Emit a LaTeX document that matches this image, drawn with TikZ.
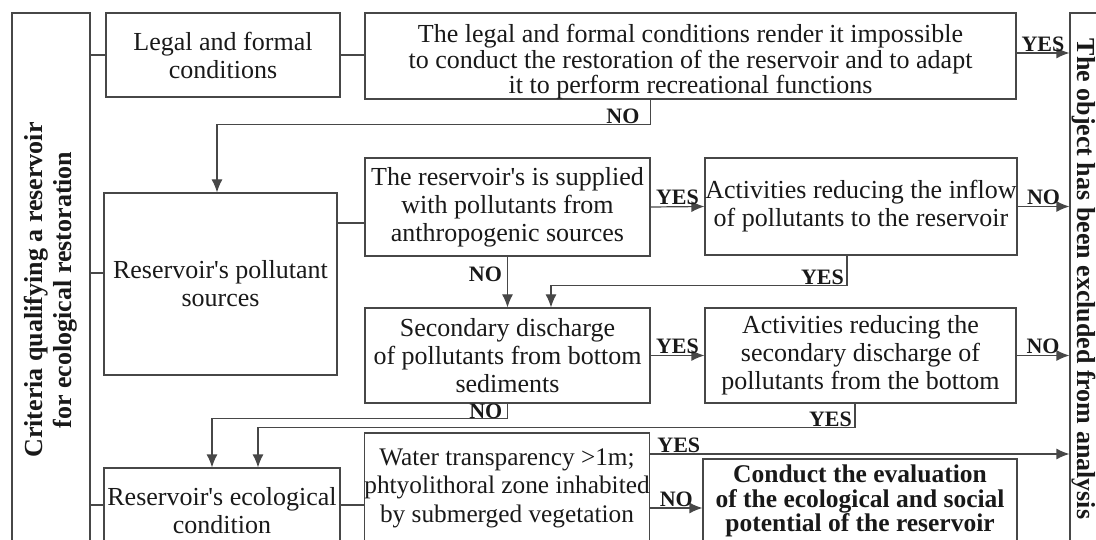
\documentclass[tikz,border=0pt]{standalone}
\usepackage{fontspec}
\setmainfont{Liberation Serif}
\usetikzlibrary{arrows.meta,calc}

\tikzset{
	box/.style={draw=black!72, line width=1.2pt, align=center, inner sep=0pt, text=black!90, font=\fontsize{26}{28}\selectfont},
	ln/.style={draw=black!72, line width=1.2pt},
	arr/.style={ln, -{Latex[length=13pt,width=11pt]}},
	lbl/.style={font=\bfseries\fontsize{22}{22}\selectfont, text=black!90, inner sep=1pt},
}
\newcommand{\aps}{\textquotesingle}

\begin{document}
\begin{tikzpicture}[x=1pt,y=-1pt]
			%%%%% START %%%%%
			\useasboundingbox (0,0) rectangle (1096,540);
			\clip (0,0) rectangle (1096,540);
			
			\node[box, rotate=90, minimum width=554pt, minimum height=78pt, font=\bfseries\fontsize{26}{29}\selectfont] (crit) at (51,290) {Criteria qualifying a reservoir\\for ecological restoration};
			\node[box, rotate=-90, minimum width=532pt, minimum height=28pt, font=\bfseries\fontsize{26}{29}\selectfont] (excl) at (1084,279) {The object has been excluded from analysis};
			
			\node[box, minimum width=234pt, minimum height=84pt] (legal) at (223,55) {Legal and formal\\conditions};
			\node[box, minimum width=651pt, minimum height=86pt] (imposs) at (690.5,56) {};
			\node[align=center, inner sep=0pt, text=black!90, font=\fontsize{26}{25.5}\selectfont] (impossTxt) at ($(imposs)+(0,6)$) {The legal and formal conditions render it impossible\\to conduct the restoration of the reservoir and to adapt\\it to perform recreational functions};
			
			\node[box, minimum width=233pt, minimum height=182pt] (pollut) at (220.5,284) {Reservoir\aps s pollutant\\sources};
			\node[box, minimum width=285pt, minimum height=98pt] (suppl) at (507.5,207) {The reservoir\aps s is supplied\\with pollutants from\\anthropogenic sources};
			\node[box, minimum width=312pt, minimum height=97pt] (act1) at (861,206.5) {Activities reducing the inflow\\of pollutants to the reservoir};
			\node[box, minimum width=285pt, minimum height=95pt] (second) at (507.5,355.5) {Secondary discharge\\of pollutants from bottom\\sediments};
			\node[box, minimum width=311pt, minimum height=95pt] (act2) at (860.5,355.5) {Activities reducing the\\secondary discharge of\\pollutants from the bottom};
			
			\node[box, minimum width=236pt, minimum height=86pt] (eco) at (222,511) {Reservoir\aps s ecological\\condition};
			\node[box, minimum width=284pt, minimum height=110pt, font=\fontsize{25.3}{28.5}\selectfont] (water) at (507,488) {Water transparency >1m;\\phtyolithoral zone inhabited\\by submerged vegetation};
			\node[box, minimum width=314pt, minimum height=84pt, font=\bfseries\fontsize{25.5}{24.5}\selectfont] (conduct) at (860,501) {Conduct the evaluation\\of the ecological and social\\potential of the reservoir};
			
			% ticks and plain links
			\coordinate (t2) at ($(pollut.west)+(0,-11)$);
			\coordinate (t3) at ($(eco.west)+(0,-6)$);
			\draw[ln] (crit.south |- legal.west) -- (legal.west);
			\draw[ln] (crit.south |- t2) -- (t2);
			\draw[ln] (crit.south |- t3) -- (t3);
			\draw[ln] (legal.east) -- (legal.east -| imposs.west);
			\draw[ln] ($(pollut.east)+(0,-61)$) -- ($(suppl.west)+(0,16)$);
			\draw[ln] (t3 -| eco.east) -- (t3 -| water.west);
			
			% legal
			\draw[arr] ($(imposs.east)+(0,-3)$) -- ($(imposs.east -| excl.south)+(0,-3)$) node[lbl, midway, above] (l0) {YES};
			\coordinate (n1) at ($(imposs.south -| suppl.east)+(0,25)$);
			\draw[arr] (imposs.south -| suppl.east) -- (n1) -| ($(pollut.north)+(-3.5,0)$);
			\node[lbl, anchor=south east] (l1) at ($(n1)+(-10,0)$) {NO};
			
			% pollutants
			\draw[arr] (suppl.east) -- (act1.west) node[lbl, midway, above] (l2) {YES};
			\draw[arr] (act1.east) -- (act1.east -| excl.south) node[lbl, midway, above] (l3) {NO};
			\draw[arr] (suppl.south) -- (second.north) node[lbl, pos=0.35, left, xshift=-4pt] (l4) {NO};
			\coordinate (y1) at ($(act1.south)+(-14,30)$);
			\draw[arr] ($(act1.south)+(-14,0)$) -- (y1) -| ($(second.north)+(43.5,0)$);
			\node[lbl, anchor=south east] (l5) at ($(y1)+(-2,0)$) {YES};
			
			\draw[arr] (second.east) -- (act2.west) node[lbl, midway, above] (l6) {YES};
			\draw[arr] (act2.east) -- (act2.east -| excl.south) node[lbl, midway, above] (l7) {NO};
			\coordinate (y2) at ($(act2.south)+(-5.5,24)$);
			\draw[arr] ($(act2.south)+(-5.5,0)$) -- (y2) -| ($(eco.north)+(36,0)$);
			\node[lbl, anchor=south east] (l8) at ($(y2)+(-2,0)$) {YES};
			\coordinate (n3) at ($(second.south)+(0,15)$);
			\draw[arr] (second.south) -- (n3) -| ($(eco.north)+(-10,0)$);
			\node[lbl, anchor=south east] (l9) at ($(n3)+(-4,1)$) {NO};
			
			% ecological condition
			\coordinate (w1) at ($(water.east)+(0,-34)$);
			\coordinate (w2) at ($(water.east)+(0,20)$);
			\draw[arr] (w1) -- (w1 -| excl.south);
			\node[lbl, anchor=south west] (l10) at ($(w1)+(6,0)$) {YES};
			\draw[arr] (w2) -- (w2 -| conduct.west) node[lbl, midway, above] (l11) {NO};
			
			%%%%% END %%%%%
\end{tikzpicture}
\end{document}
